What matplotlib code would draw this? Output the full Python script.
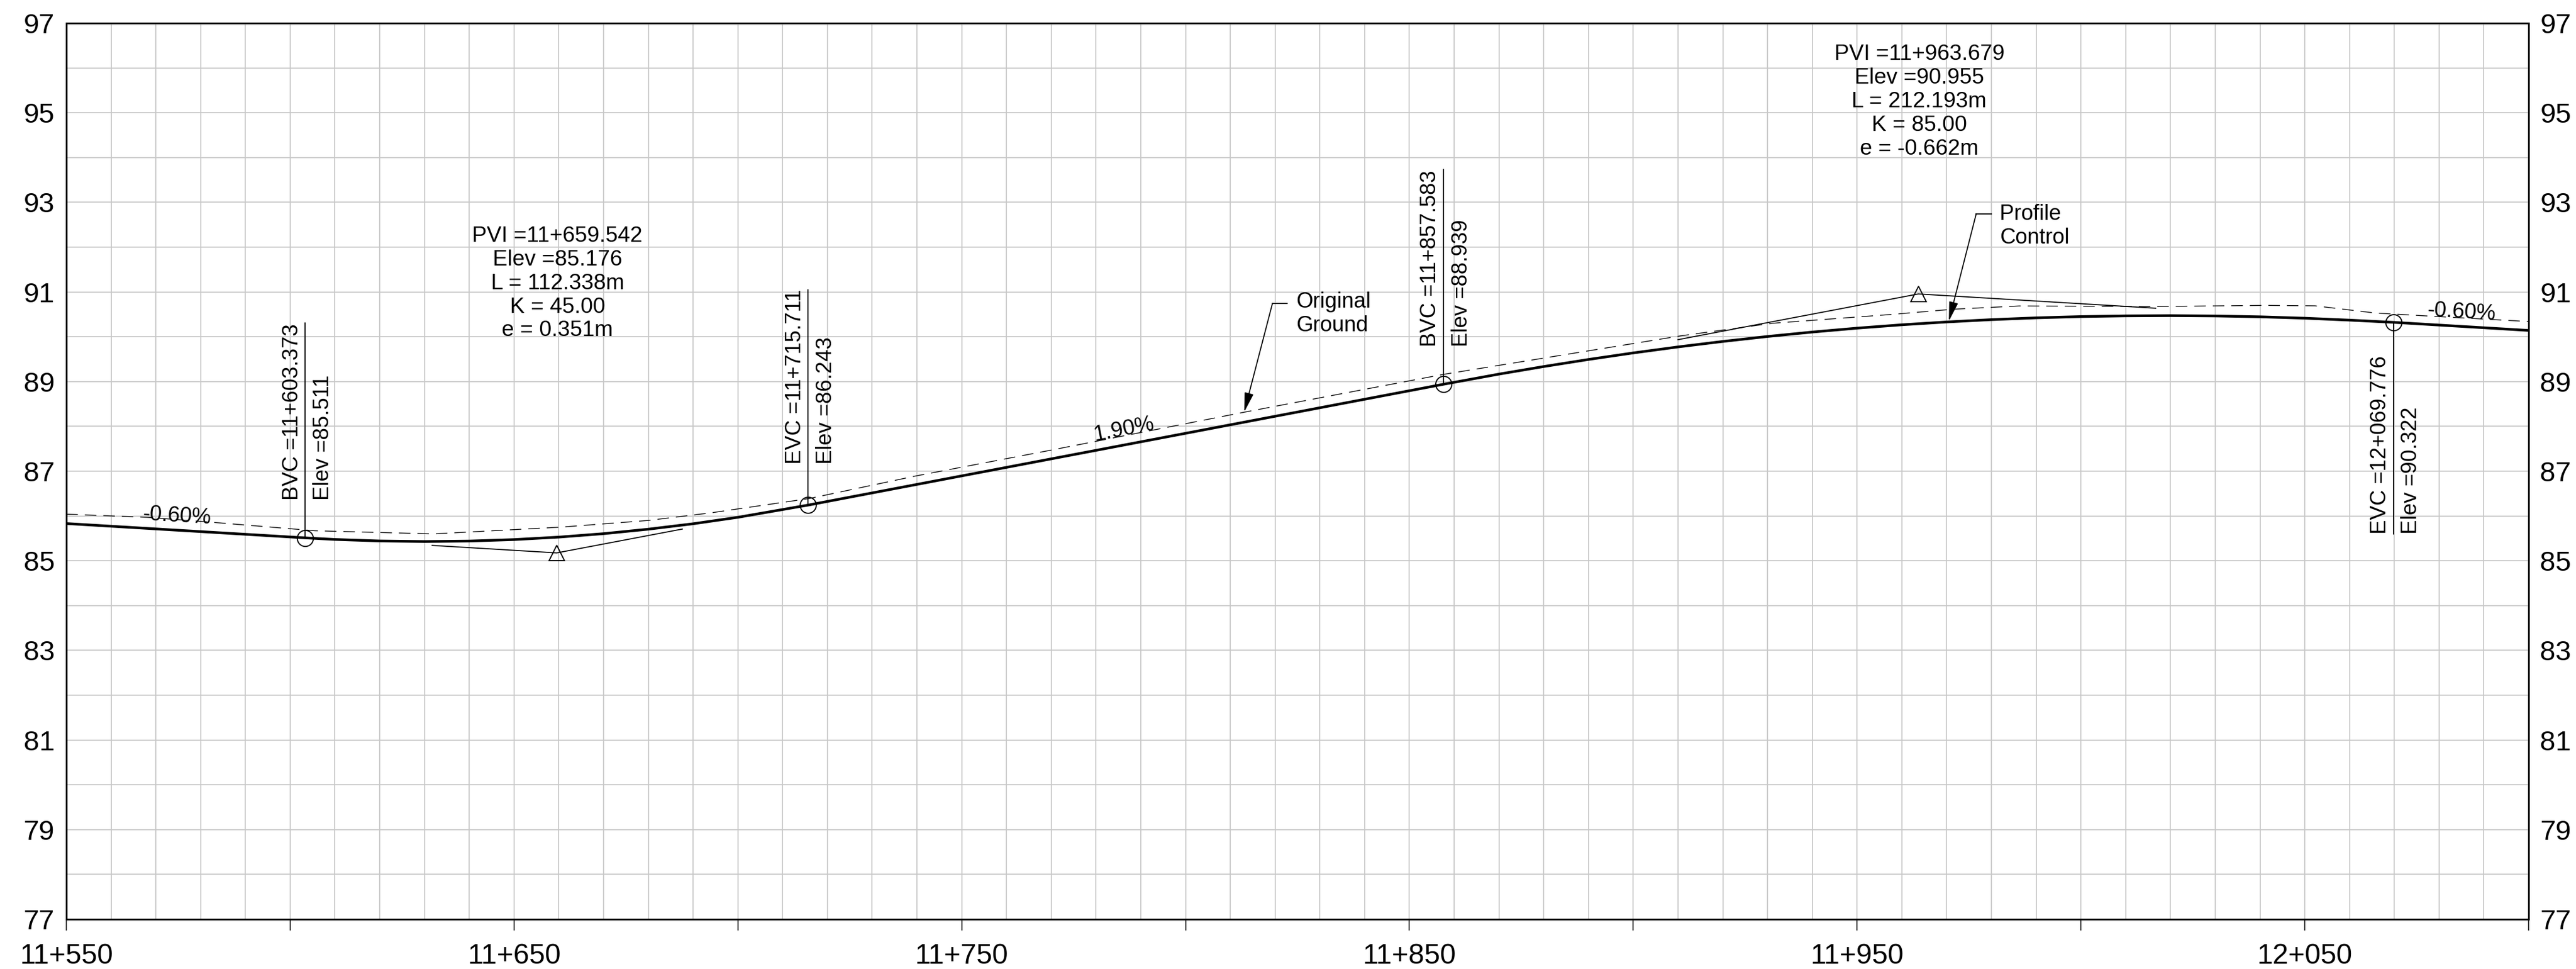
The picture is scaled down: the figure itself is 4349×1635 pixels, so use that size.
import matplotlib
matplotlib.use("Agg")
from matplotlib import pyplot as plt
from matplotlib.ticker import MultipleLocator

plt.rcParams["font.family"] = ["Liberation Sans", "DejaVu Sans"]

# design profile (station, elevation)
profile_st = [11550, 11603.373, 11610, 11620, 11630, 11640, 11650, 11660, 11670, 11680, 11690, 11700,
              11715.711, 11857.583, 11870, 11880, 11890, 11900, 11910, 11920, 11930, 11940, 11950,
              11960, 11970, 11980, 11990, 12000, 12010, 12020, 12030, 12040, 12050, 12060, 12069.776, 12100]
profile_el = [85.831, 85.511, 85.476, 85.442, 85.430, 85.440, 85.473, 85.528, 85.605, 85.705, 85.826, 85.970,
              86.243, 88.939, 89.166, 89.335, 89.493, 89.639, 89.773, 89.895, 90.006, 90.105, 90.192,
              90.267, 90.330, 90.382, 90.422, 90.450, 90.466, 90.471, 90.464, 90.445, 90.414, 90.371, 90.322, 90.141]

# original ground, dashed
ground_st = [11550, 11568, 11582.5, 11605.5, 11632, 11660.4, 11680, 11694, 11716, 11739.6, 11770, 11813.3,
             11857.6, 11910.6, 11931, 11958, 11971.5, 11986.2, 12016.8, 12041.2, 12052.3, 12065.7, 12078, 12100]
ground_el = [86.04, 85.97, 85.86, 85.67, 85.60, 85.75, 85.90, 86.07, 86.39, 86.89, 87.47, 88.32,
             89.16, 90.02, 90.30, 90.50, 90.615, 90.687, 90.675, 90.70, 90.69, 90.53, 90.46, 90.34]

# tangent lines through the PVIs
sag_st = [11631.7, 11659.542, 11687.6]
sag_el = [85.343, 85.176, 85.708]
crest_st = [11910, 11963.679, 12016.7]
crest_el = [89.935, 90.955, 90.637]

curve_st = [11603.373, 11715.711, 11857.583, 12069.776]
curve_el = [85.511, 86.243, 88.939, 90.322]
curve_names = ["BVC =11+603.373", "EVC =11+715.711", "BVC =11+857.583", "EVC =12+069.776"]
curve_elevs = ["Elev =85.511", "Elev =86.243", "Elev =88.939", "Elev =90.322"]

pvi_st = [11659.542, 11963.679]
pvi_el = [85.176, 90.955]
pvi_text = ["PVI =11+659.542\nElev =85.176\nL = 112.338m\nK = 45.00\ne = 0.351m",
            "PVI =11+963.679\nElev =90.955\nL = 212.193m\nK = 85.00\ne = -0.662m"]

x_ticks = [11550, 11600, 11650, 11700, 11750, 11800, 11850, 11900, 11950, 12000, 12050, 12100]
x_labels = ["11+550", "", "11+650", "", "11+750", "", "11+850", "", "11+950", "", "12+050", ""]
y_ticks = [77, 79, 81, 83, 85, 87, 89, 91, 93, 95, 97]

fig = plt.figure(figsize=(43.49, 16.35), dpi=100)
ax = fig.add_axes([112 / 4349, 84 / 1635, 4157 / 4349, 1512 / 1635])
ax.set_xlim(11550, 12100)
ax.set_ylim(77, 97)

ax.set_xticks(x_ticks)
ax.set_xticklabels(x_labels)
ax.set_yticks(y_ticks)
ax.xaxis.set_minor_locator(MultipleLocator(10))
ax.yaxis.set_minor_locator(MultipleLocator(1))
ax.grid(which="both", color="#c8c8c8", linewidth=1.3)
ax.set_axisbelow(True)
ax.tick_params(axis="x", which="major", length=14, width=1.1, labelsize=34.5, pad=15)
ax.tick_params(axis="y", which="major", length=0, labelsize=34, pad=14, labelright=True)
ax.tick_params(which="minor", length=0)
for s in ax.spines.values():
    s.set_linewidth(2.1)

ax.plot(ground_st, ground_el, color="black", lw=1.0, linestyle=(0, (14, 8.5)))
ax.plot(profile_st, profile_el, color="black", lw=3.2)
ax.plot(sag_st, sag_el, color="black", lw=1.3)
ax.plot(crest_st, crest_el, color="black", lw=1.3)
ax.plot(pvi_st, pvi_el, linestyle="none", marker="^", ms=19, mfc="none", mec="black", mew=1.4)
ax.plot(curve_st, curve_el, linestyle="none", marker="o", ms=19.5, mfc="none", mec="black", mew=1.4)

# leaders and rotated labels at curve ends
lead_tops = [90.31, 91.05, 93.73, 90.322]
lead_bots = [85.511, 86.243, 88.939, 85.6]
text_bots = [86.35, 87.16, 89.78, 85.6]
for i in range(4):
    ax.plot([curve_st[i], curve_st[i]], [lead_bots[i], lead_tops[i]], color="black", lw=1.3)
    ax.text(curve_st[i] - 2.9, text_bots[i], curve_names[i], rotation=90, ha="center", va="bottom", fontsize=26.3)
    ax.text(curve_st[i] + 4.0, text_bots[i], curve_elevs[i], rotation=90, ha="center", va="bottom", fontsize=26.3)

ax.text(11659.7, 91.19, pvi_text[0], ha="center", va="center", fontsize=26.8, linespacing=1.18)
ax.text(11963.9, 95.25, pvi_text[1], ha="center", va="center", fontsize=26.8, linespacing=1.18)

# grade labels
ax.text(11574.7, 86.0, "-0.60%", rotation=-3.4, ha="center", va="center", fontsize=26.3)
ax.text(11786.2, 87.93, "1.90%", rotation=10.8, ha="center", va="center", fontsize=26.3)
ax.text(12085, 90.55, "-0.60%", rotation=-3.4, ha="center", va="center", fontsize=26.3)

# callouts
arrow = dict(arrowstyle="-|>,head_length=1,head_width=0.235", color="black", lw=1.3, mutation_scale=20, shrinkA=0, shrinkB=0)
ax.plot([11822.7, 11819.4], [90.74, 90.74], color="black", lw=1.3)
ax.annotate("", xy=(11813.1, 88.32), xytext=(11819.4, 90.74), arrowprops=arrow)
ax.text(11824.7, 90.51, "Original\nGround", ha="left", va="center", fontsize=26.3, linespacing=1.18)
ax.plot([11980, 11976.6], [92.74, 92.74], color="black", lw=1.3)
ax.annotate("", xy=(11970.5, 90.35), xytext=(11976.6, 92.74), arrowprops=arrow)
ax.text(11981.9, 92.47, "Profile\nControl", ha="left", va="center", fontsize=26.3, linespacing=1.18)

fig.savefig("out.png", dpi=100, facecolor="white")
